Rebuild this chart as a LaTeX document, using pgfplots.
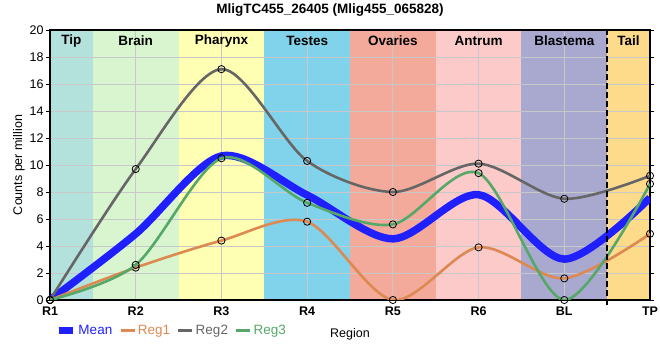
\documentclass[border=0pt]{standalone}
\usepackage{pgfplots}
\pgfplotsset{compat=1.18}
\usepackage{fontspec}
\setmainfont{Liberation Sans}
\setsansfont{Liberation Sans}
\definecolor{tipc}{RGB}{179,226,221}
\definecolor{brainc}{RGB}{217,245,208}
\definecolor{pharc}{RGB}{255,255,179}
\definecolor{testc}{RGB}{128,211,235}
\definecolor{ovac}{RGB}{244,170,155}
\definecolor{antc}{RGB}{253,202,202}
\definecolor{blasc}{RGB}{169,169,207}
\definecolor{tailc}{RGB}{254,218,139}
\definecolor{meanc}{RGB}{32,32,255}
\definecolor{reg1c}{RGB}{221,137,82}
\definecolor{reg2c}{RGB}{102,102,102}
\definecolor{reg3c}{RGB}{85,168,104}
\definecolor{gridc}{RGB}{200,200,200}
\begin{document}
\begin{tikzpicture}
\begin{axis}[
  set layers,
  scale only axis, width=600pt, height=270pt,
  xmin=0, xmax=7, ymin=0, ymax=20,
  clip mode=individual,
  xtick={0,...,7}, xticklabels={R1,R2,R3,R4,R5,R6,BL,TP},
  ytick={0,2,...,20},
  grid=major, grid style={color=gridc, line width=0.9pt},
  tick align=outside,
  xtick style={draw=none},
  ytick style={black, line width=0.9pt},
  major tick length=4pt,
  ticklabel style={font=\fontsize{12.5}{14}\selectfont},
  xticklabel style={font=\bfseries\fontsize{12.5}{14}\selectfont, yshift=1pt},
  yticklabel style={xshift=1pt},
  /pgf/number format/assume math mode=true,
  axis line style={line width=1.8pt},
  ylabel={Counts per million},
  ylabel style={font=\fontsize{12.5}{14}\selectfont, yshift=-2pt},
  xlabel={Region},
  xlabel style={font=\fontsize{12.5}{14}\selectfont, yshift=-6pt},
  title={MligTC455\_26405 (Mlig455\_065828)},
  title style={font=\bfseries\fontsize{13.5}{15}\selectfont, yshift=4pt, xshift=-20pt},
  legend style={at={(0.008,-0.085)}, anchor=north west, draw=none, fill=none,
    legend columns=-1, font=\fontsize{13.5}{15}\selectfont,
    /tikz/every even column/.append style={column sep=5pt},
    inner sep=0pt},
  legend cell align=left,
  legend image code/.code={\draw[#1] (0pt,0pt) -- (14pt,0pt);},
]
% background bands
\addplot[on layer=axis background, fill=tipc, draw=none, forget plot] coordinates {(0,20) (0.5,20)} \closedcycle;
\addplot[on layer=axis background, fill=brainc, draw=none, forget plot] coordinates {(0.5,20) (1.5,20)} \closedcycle;
\addplot[on layer=axis background, fill=pharc, draw=none, forget plot] coordinates {(1.5,20) (2.5,20)} \closedcycle;
\addplot[on layer=axis background, fill=testc, draw=none, forget plot] coordinates {(2.5,20) (3.5,20)} \closedcycle;
\addplot[on layer=axis background, fill=ovac, draw=none, forget plot] coordinates {(3.5,20) (4.5,20)} \closedcycle;
\addplot[on layer=axis background, fill=antc, draw=none, forget plot] coordinates {(4.5,20) (5.5,20)} \closedcycle;
\addplot[on layer=axis background, fill=blasc, draw=none, forget plot] coordinates {(5.5,20) (6.5,20)} \closedcycle;
\addplot[on layer=axis background, fill=tailc, draw=none, forget plot] coordinates {(6.5,20) (7,20)} \closedcycle;

\addplot[meanc, line width=7.5pt, smooth, no marks] coordinates {
(0,0) (1,4.9) (2,10.67) (3,7.77) (4,4.53) (5,7.8) (6,3.03) (7,7.57)};
\addlegendentry{\color{meanc}Mean}
\addplot[reg1c, line width=2.6pt, smooth, mark=o, mark size=3.6pt,
  mark options={draw=black, fill=white, fill opacity=0.5, line width=0.8pt}] coordinates {
(0,0) (1,2.4) (2,4.4) (3,5.8) (4,0) (5,3.9) (6,1.6) (7,4.9)};
\addlegendentry{\color{reg1c}Reg1}
\addplot[reg2c, line width=2.6pt, smooth, mark=o, mark size=3.6pt,
  mark options={draw=black, fill=white, fill opacity=0.5, line width=0.8pt}] coordinates {
(0,0) (1,9.7) (2,17.1) (3,10.3) (4,8.0) (5,10.1) (6,7.5) (7,9.2)};
\addlegendentry{\color{reg2c}Reg2}
\addplot[reg3c, line width=2.6pt, smooth, mark=o, mark size=3.6pt,
  mark options={draw=black, fill=white, fill opacity=0.5, line width=0.8pt}] coordinates {
(0,0) (1,2.6) (2,10.5) (3,7.2) (4,5.6) (5,9.4) (6,0) (7,8.6)};
\addlegendentry{\color{reg3c}Reg3}

\draw[black, line width=2pt, dash pattern=on 6pt off 3pt] (axis cs:6.5,-0.4) -- (axis cs:6.5,20);

\begin{scope}[every node/.style={font=\bfseries\fontsize{13.5}{15}\selectfont}]
\node at (axis cs:0.25,19.2) {Tip};
\node at (axis cs:1,19.2) {Brain};
\node at (axis cs:2,19.2) {Pharynx};
\node at (axis cs:3,19.2) {Testes};
\node at (axis cs:4,19.2) {Ovaries};
\node at (axis cs:5,19.2) {Antrum};
\node at (axis cs:6,19.2) {Blastema};
\node at (axis cs:6.75,19.2) {Tail};
\end{scope}
\end{axis}
\pgfresetboundingbox
\path[use as bounding box] ([xshift=-50pt,yshift=-60pt]current axis.south west) rectangle ([xshift=10pt,yshift=30pt]current axis.north east);
\end{tikzpicture}
\end{document}
